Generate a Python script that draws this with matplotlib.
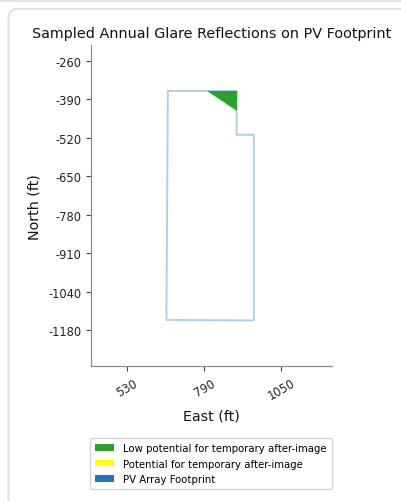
import matplotlib
matplotlib.use("Agg")
import matplotlib.pyplot as plt
from matplotlib.patches import Patch, FancyBboxPatch, Rectangle

# PV array footprint outline (east, north in ft)
footprint_east = [667, 899, 899, 957, 957, 662, 667]
footprint_north = [-362, -362, -510, -510, -1137, -1135, -362]

# Sampled glare reflections (low potential for temporary after-image)
glare_low_east = [799, 899, 899]
glare_low_north = [-362, -362, -429]

# Axis ticks
xtick_values = [530, 790, 1050]
xtick_labels = ["530", "790", "1050"]
ytick_values = [-260, -390, -520, -650, -780, -910, -1040, -1170]
ytick_labels = ["-260", "-390", "-520", "-650", "-780", "-910", "-1040", "-1180"]

legend_labels = [
    "Low potential for temporary after-image",
    "Potential for temporary after-image",
    "PV Array Footprint",
]
legend_colors = ["#2ca02c", "yellow", "#1f77b4"]

W, H = 401, 502
fig = plt.figure(figsize=(W / 100, H / 100), dpi=100)
fig.patch.set_facecolor("white")

# page strip and card outline around the figure
fig.patches.append(Rectangle((0, (H - 2.5) / H), 1, 2.5 / H, transform=fig.transFigure,
                             facecolor="#e4e4e4", edgecolor="none", zorder=-5))
fig.patches.append(FancyBboxPatch((8.5 / W, -20 / H), (W + 20) / W, (H + 20 - 10) / H,
                                  boxstyle="round,pad=0,rounding_size=0.02",
                                  transform=fig.transFigure, facecolor="white",
                                  edgecolor="#e2e2e2", linewidth=1.6, zorder=-5))

ax = fig.add_axes([91 / W, (H - 367.3) / H, (331.7 - 91) / W, (367.3 - 46) / H])
ax.set_zorder(2)
ax.set_facecolor("none")

ax.fill(glare_low_east, glare_low_north, color=legend_colors[0], linewidth=0, zorder=3)
ax.plot(footprint_east, footprint_north, color=legend_colors[2], alpha=0.35,
        linewidth=1.4, zorder=2)

ax.set_xlim(407.5, 1220)
ax.set_ylim(-1291.7, -207)

ax.set_xticks(xtick_values)
ax.set_xticklabels(xtick_labels, rotation=30, ha="center", fontsize=8.3)
ax.set_yticks(ytick_values)
ax.set_yticklabels(ytick_labels, fontsize=8.3)

for side in ("top", "right"):
    ax.spines[side].set_visible(False)
for side in ("left", "bottom"):
    ax.spines[side].set_color("#8c8c8c")
    ax.spines[side].set_linewidth(0.9)
ax.tick_params(colors="#444444", labelcolor="#222222", length=3.5, width=0.8)

ax.set_title("Sampled Annual Glare Reflections on PV Footprint", fontsize=10.4,
             pad=6, color="#111111")
ax.set_xlabel("East (ft)", fontsize=10.3, labelpad=5, color="#111111")
ax.set_ylabel("North (ft)", fontsize=10.3, labelpad=5, color="#111111")

handles = [Patch(facecolor=c, edgecolor="none") for c in legend_colors]
leg = fig.legend(handles, legend_labels, loc="upper center",
                 bbox_to_anchor=(211 / W, (H - 434) / H), fontsize=7.3,
                 frameon=True, edgecolor="#cccccc", handlelength=1.9, handleheight=0.6,
                 labelspacing=0.55, borderpad=0.5, handletextpad=0.9, fancybox=True)
leg.set_zorder(3)

fig.savefig("out.png", dpi=100)
